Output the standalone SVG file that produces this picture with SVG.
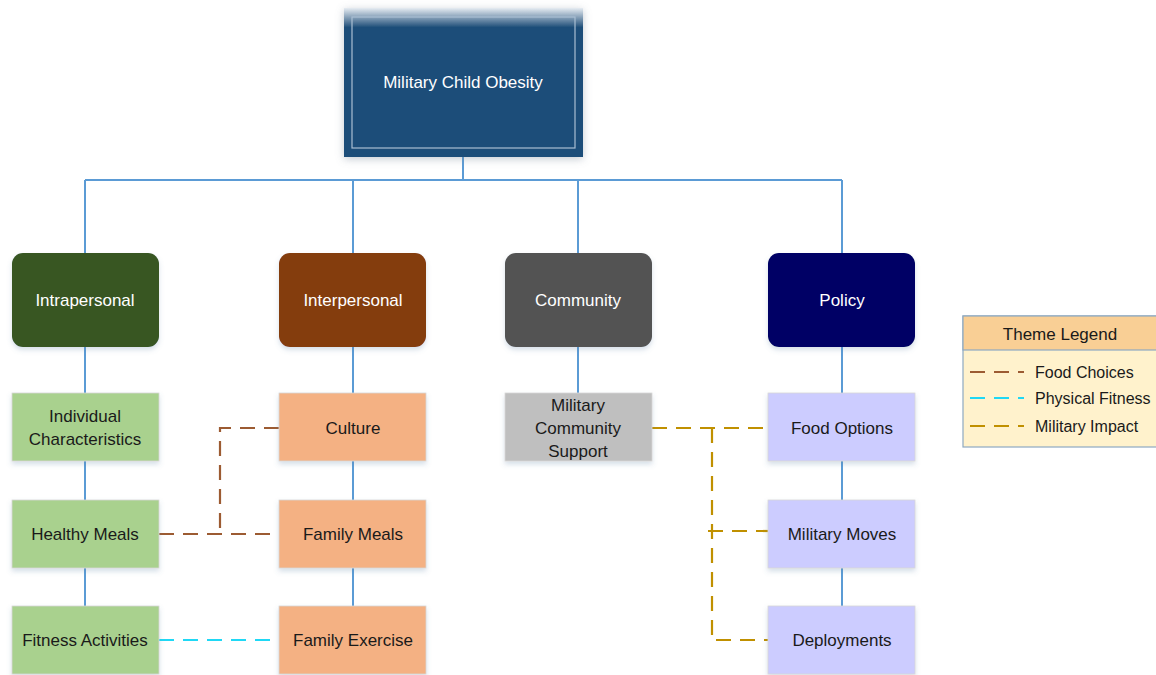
<svg xmlns="http://www.w3.org/2000/svg" width="1156" height="675" viewBox="0 0 1156 675">
  <style>
    text { font-family: "Liberation Sans", Arial, sans-serif; font-size: 17px; text-anchor: middle; dominant-baseline: central; }
    .lt { fill: #ffffff; }
    .dk { fill: #1a1a1a; }
    .key { text-anchor: start; font-size: 16px; }
    .tree { fill: none; stroke: #5B9BD5; stroke-width: 2; }
    .dash { fill: none; stroke-width: 2.2; stroke-dasharray: 15 9; }
    .food { stroke: #9C5B32; }
    .fit { stroke: #1FD8F5; }
    .mil { stroke: #C09000; }
    .box { stroke: #d8d8d8; stroke-width: 0.8; filter: url(#sh); }
  </style>
  <defs>
    <filter id="sh" x="-10%" y="-10%" width="120%" height="130%">
      <feDropShadow dx="0" dy="3" stdDeviation="2.5" flood-color="#5B7FA6" flood-opacity="0.25"/>
    </filter>
    <filter id="glow" x="-10%" y="-10%" width="120%" height="125%">
      <feDropShadow dx="0" dy="2" stdDeviation="4" flood-color="#7a8a9a" flood-opacity="0.45"/>
    </filter>
    <linearGradient id="topfade" x1="0" y1="0" x2="0" y2="1">
      <stop offset="0" stop-color="#E6ECF2"/>
      <stop offset="0.13" stop-color="#1F4E79"/>
      <stop offset="1" stop-color="#1F4E79"/>
    </linearGradient>
  </defs>

  <!-- tree connectors and theme links -->
  <g id="connectors">
    <path class="tree" d="M463 157 V180 M85 180 H842 M85 180 V253 M353 180 V253 M578 180 V253 M842 180 V253"/>
    <path class="tree" d="M85 347 V393 M85 461 V500 M85 568 V606"/>
    <path class="tree" d="M353 347 V393 M353 461 V500 M353 568 V606"/>
    <path class="tree" d="M578 347 V393"/>
    <path class="tree" d="M842 347 V393 M842 461 V500 M842 568 V606"/>
    <path class="dash food" d="M159 534 H279"/>
    <path class="dash food" d="M279 428 H220 V534"/>
    <path class="dash fit" d="M159 640 H279"/>
    <path class="dash mil" d="M652 428 H768"/>
    <path class="dash mil" d="M712 428 V640 H768"/>
    <path class="dash mil" d="M708 531 H768"/>
  </g>

  <g id="root">
    <rect x="344" y="8" width="239" height="149" fill="url(#topfade)" filter="url(#glow)"/>
    <rect x="352" y="17" width="223" height="131" fill="none" stroke="#A9BED3" stroke-width="1.2"/>
    <text class="lt" x="463" y="82">Military Child Obesity</text>
  </g>

  <g id="intrapersonal">
    <rect x="12" y="253" width="147" height="94" rx="11" fill="#375623" filter="url(#sh)"/>
    <text class="lt" x="85" y="300">Intrapersonal</text>
  </g>
  <g id="interpersonal">
    <rect x="279" y="253" width="147" height="94" rx="11" fill="#843C0C" filter="url(#sh)"/>
    <text class="lt" x="353" y="300">Interpersonal</text>
  </g>
  <g id="community">
    <rect x="505" y="253" width="147" height="94" rx="11" fill="#525252" filter="url(#sh)"/>
    <text class="lt" x="578" y="300">Community</text>
  </g>
  <g id="policy">
    <rect x="768" y="253" width="147" height="94" rx="11" fill="#020265" filter="url(#sh)"/>
    <text class="lt" x="842" y="300">Policy</text>
  </g>

  <g id="individual-characteristics">
    <rect class="box" x="12" y="393" width="147" height="68" fill="#A9D18E"/>
    <text class="dk" x="85" y="416">Individual</text>
    <text class="dk" x="85" y="439">Characteristics</text>
  </g>
  <g id="healthy-meals">
    <rect class="box" x="12" y="500" width="147" height="68" fill="#A9D18E"/>
    <text class="dk" x="85" y="534">Healthy Meals</text>
  </g>
  <g id="fitness-activities">
    <rect class="box" x="12" y="606" width="147" height="68" fill="#A9D18E"/>
    <text class="dk" x="85" y="640">Fitness Activities</text>
  </g>

  <g id="culture">
    <rect class="box" x="279" y="393" width="147" height="68" fill="#F4B183"/>
    <text class="dk" x="353" y="428">Culture</text>
  </g>
  <g id="family-meals">
    <rect class="box" x="279" y="500" width="147" height="68" fill="#F4B183"/>
    <text class="dk" x="353" y="534">Family Meals</text>
  </g>
  <g id="family-exercise">
    <rect class="box" x="279" y="606" width="147" height="68" fill="#F4B183"/>
    <text class="dk" x="353" y="640">Family Exercise</text>
  </g>

  <g id="military-community-support">
    <rect class="box" x="505" y="393" width="147" height="68" fill="#BFBFBF"/>
    <text class="dk" x="578" y="405">Military</text>
    <text class="dk" x="578" y="428">Community</text>
    <text class="dk" x="578" y="451">Support</text>
  </g>

  <g id="food-options">
    <rect class="box" x="768" y="393" width="147" height="68" fill="#CCCCFF"/>
    <text class="dk" x="842" y="428">Food Options</text>
  </g>
  <g id="military-moves">
    <rect class="box" x="768" y="500" width="147" height="68" fill="#CCCCFF"/>
    <text class="dk" x="842" y="534">Military Moves</text>
  </g>
  <g id="deployments">
    <rect class="box" x="768" y="606" width="147" height="68" fill="#CCCCFF"/>
    <text class="dk" x="842" y="640">Deployments</text>
  </g>

  <g id="legend">
    <rect x="963" y="316" width="200" height="131" fill="#FFF2CC" stroke="#8EA9C1" stroke-width="1.2"/>
    <rect x="963" y="316" width="200" height="34" fill="#F9CF95" stroke="#8EA9C1" stroke-width="1.2"/>
    <text class="dk" x="1060" y="334">Theme Legend</text>
    <path class="dash food" stroke-dasharray="11 7" d="M970 372 H1024"/>
    <path class="dash fit" stroke-dasharray="11 7" d="M970 398 H1024"/>
    <path class="dash mil" stroke-dasharray="11 7" d="M970 426 H1024"/>
    <text class="dk key" x="1035" y="372">Food Choices</text>
    <text class="dk key" x="1035" y="398">Physical Fitness</text>
    <text class="dk key" x="1035" y="426">Military Impact</text>
  </g>
</svg>
